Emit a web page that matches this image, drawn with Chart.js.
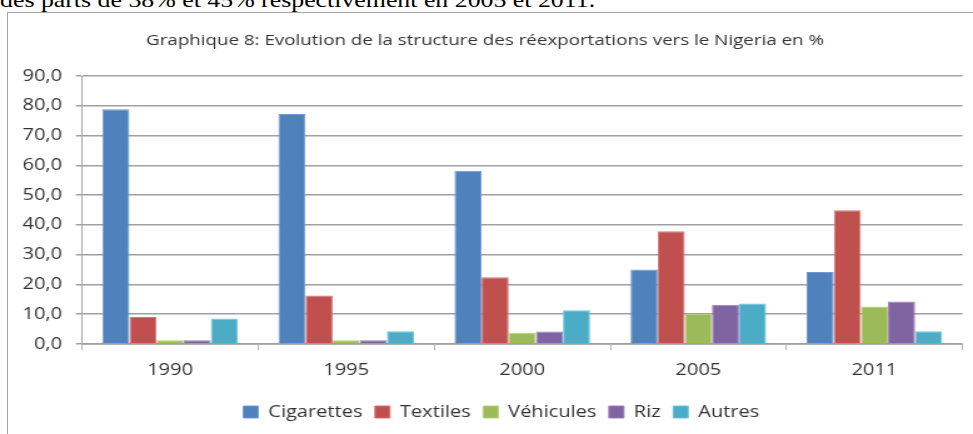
<!DOCTYPE html>
<html>
<head>
<meta charset="utf-8">
<script src="https://cdn.jsdelivr.net/npm/chart.js@4.4.0/dist/chart.umd.min.js"></script>
<style>
  body { margin: 0; background: #fff; overflow: hidden; }
  #para { position: absolute; left: 0; top: -12px; font-family: "Liberation Serif", serif; font-size: 21px; white-space: nowrap; color: #000; transform: scaleX(1.23); transform-origin: 0 0; }
  #frame { position: absolute; left: 7px; top: 12px; width: 1000px; height: 500px; border: 1px solid #a6a6a6; }
  /* the original picture is stretched sideways, so draw narrower and widen */
  #wrap { position: absolute; left: 0; top: 0; width: 778px; height: 434px; transform: scaleX(1.2506); transform-origin: 0 0; }
</style>
</head>
<body>
<div id="para">des parts de 38% et 45% respectivement en 2005 et 2011.</div>
<div id="frame"></div>
<div id="wrap"><canvas id="chart"></canvas></div>
<script>
// annees et parts (%)
const annees = ['1990', '1995', '2000', '2005', '2011'];
const cigarettes = [78.8, 77.2, 58.2, 25.0, 24.2];
const textiles = [9.1, 16.3, 22.4, 37.9, 44.9];
const vehicules = [1.3, 1.3, 3.8, 10.1, 12.6];
const riz = [1.3, 1.3, 4.2, 13.2, 14.3];
const autres = [8.6, 4.3, 11.3, 13.6, 4.3];

const noms = ['Cigarettes', 'Textiles', 'Véhicules', 'Riz', 'Autres'];
const couleurs = ['#4f81bd', '#c0504d', '#9bbb59', '#8064a2', '#4bacc6'];
const bords = ['#6f9bd0', '#d87673', '#b3cf7b', '#9a80bb', '#6fc4da'];
const series = [cigarettes, textiles, vehicules, riz, autres];

function makeDatasets() {
    let ds = [];
    for (let i = 0; i < series.length; i++) {
        ds.push({
            label: noms[i],
            data: series[i],
            backgroundColor: couleurs[i],
            borderColor: bords[i],
            borderWidth: 1,
            categoryPercentage: 0.77,
            barPercentage: 1.0
        });
    }
    return ds;
}

// legend sits a bit right of centre in the original
const shiftLegend = {
    id: 'shiftLegend',
    afterLayout(chart) {
        chart.legend.left += 13;
        chart.legend.right += 13;
    }
};

const font = 'Open Sans';

const config = {
    type: 'bar',
    data: { labels: annees, datasets: makeDatasets() },
    options: {
        responsive: true,
        maintainAspectRatio: false,
        animation: false,
        layout: { padding: { left: 6, right: 8.4, top: 0, bottom: 4 } },
        plugins: {
            title: {
                display: true,
                text: 'Graphique 8: Evolution de la structure des réexportations vers le Nigeria en %',
                color: '#333',
                font: { family: font, size: 15, weight: 'normal' },
                padding: { top: 32, bottom: 26 }
            },
            legend: {
                position: 'bottom',
                labels: {
                    color: '#333',
                    font: { family: font, size: 16 },
                    boxWidth: 12,
                    boxHeight: 12,
                    padding: 10
                }
            },
            tooltip: { enabled: false }
        },
        scales: {
            x: {
                grid: { display: true, drawOnChartArea: false, offset: true, color: '#b0b0b0', tickLength: 6 },
                border: { color: '#b0b0b0' },
                ticks: { color: '#333', font: { family: font, size: 16 }, padding: 11 },
                afterFit: function(scale) { scale.height = 50; }
            },
            y: {
                min: 0,
                max: 90,
                ticks: {
                    stepSize: 10,
                    color: '#333',
                    font: { family: font, size: 16 },
                    padding: 11,
                    callback: function(v) { return v.toFixed(1).replace('.', ','); }
                },
                grid: { color: '#a0a0a0', lineWidth: 1.5, tickLength: 5 },
                border: { color: '#a6a6a6' },
                afterFit: function(scale) { scale.width = 59.6; }
            }
        }
    },
    plugins: [shiftLegend]
};

let ctx = document.getElementById('chart').getContext('2d');
new Chart(ctx, config);
</script>
</body>
</html>
